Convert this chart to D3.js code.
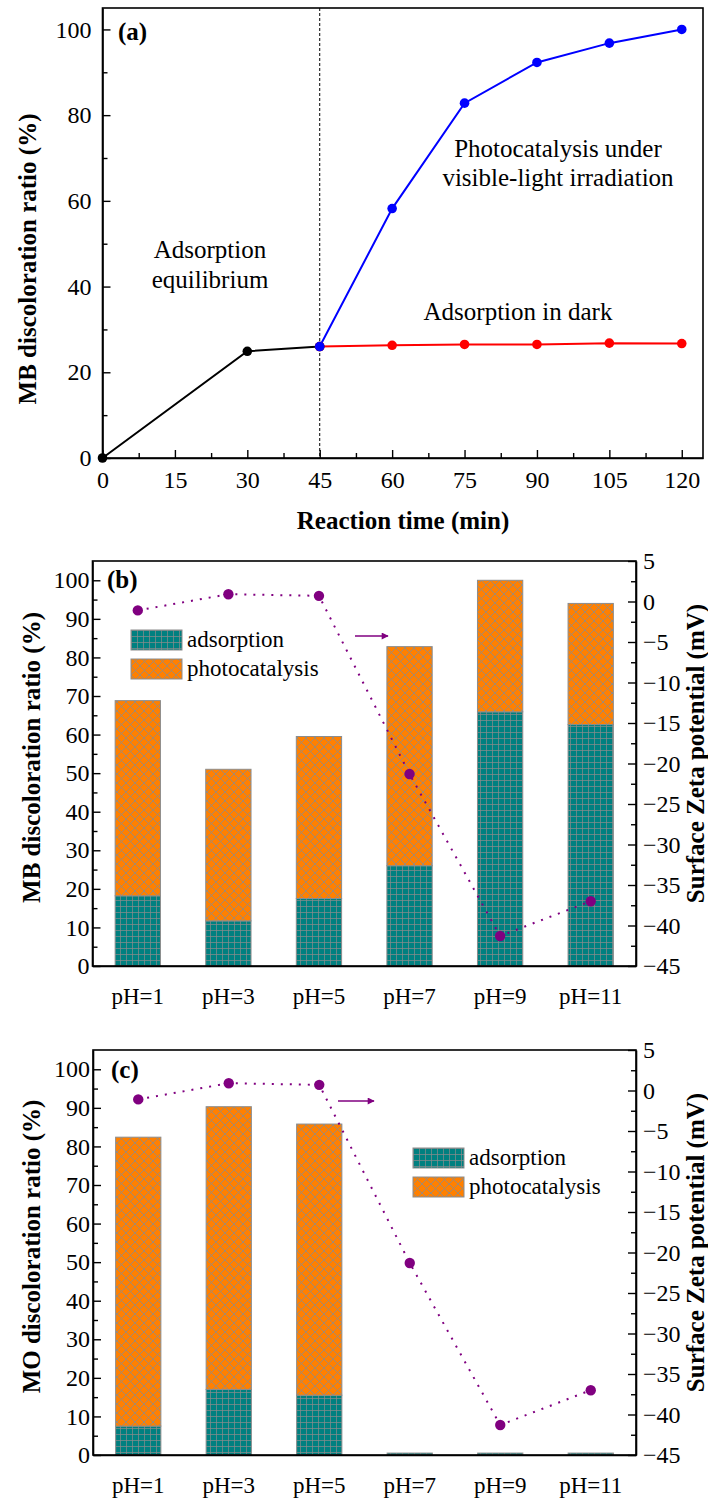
<!DOCTYPE html>
<html>
<head>
<meta charset="utf-8">
<script src="https://cdn.jsdelivr.net/npm/d3@7"></script>
<style>
  body { margin: 0; background: #fff; }
  svg { display: block; }
</style>
</head>
<body>
<svg id="fig" width="708" height="1498"></svg>
<script>
// ---------- Panel (a): MB discoloration vs. reaction time ----------
const timeEquil   = [0, 30, 45];
const ratioEquil  = [0, 24.9, 26.0];
const timeLight   = [45, 60, 75, 90, 105, 120];
const ratioLight  = [26.0, 58.2, 82.8, 92.3, 96.8, 100];
const timeDark    = [45, 60, 75, 90, 105, 120];
const ratioDark   = [26.0, 26.3, 26.5, 26.5, 26.8, 26.7];
const timeTicks   = [0, 15, 30, 45, 60, 75, 90, 105, 120];
const timeMinor   = [7.5, 22.5, 37.5, 52.5, 67.5, 82.5, 97.5, 112.5];
const ratioTicksA = [0, 20, 40, 60, 80, 100];
const ratioMinorA = [10, 30, 50, 70, 90];
const darkStart   = 45;

// ---------- Panels (b), (c): pH dependence ----------
const phLabels         = ["pH=1", "pH=3", "pH=5", "pH=7", "pH=9", "pH=11"];
const mbAdsorption     = [18.2, 11.7, 17.5, 26.0, 65.9, 62.6];
const mbPhotocatalysis = [50.6, 39.3, 42.0, 56.8, 34.1, 31.4];
const moAdsorption     = [7.5, 17.0, 15.5, 0.5, 0.5, 0.5];
const moPhotocatalysis = [74.9, 73.3, 70.3, 0, 0, 0];
const zetaPotential    = [-1.1, 0.9, 0.7, -21.3, -41.3, -37.0];
const ratioTicksB = [0, 10, 20, 30, 40, 50, 60, 70, 80, 90, 100];
const ratioMinorB = [5, 15, 25, 35, 45, 55, 65, 75, 85, 95];
const zetaTicks   = [5, 0, -5, -10, -15, -20, -25, -30, -35, -40, -45];
const zetaMinor   = [2.5, -2.5, -7.5, -12.5, -17.5, -22.5, -27.5, -32.5, -37.5, -42.5];

const FONT = "'Liberation Serif', 'Times New Roman', Times, serif";
const TEAL = "#008080", ORANGE = "#ff8000", PURPLE = "#800080", HATCH = "#8c8c8c";

const svg = d3.select("#fig").attr("font-family", FONT);

// ---------- fill patterns ----------
const defs = svg.append("defs");
const gridPat = defs.append("pattern").attr("id", "gridTeal")
  .attr("patternUnits", "userSpaceOnUse").attr("width", 6).attr("height", 6);
gridPat.append("rect").attr("width", 6).attr("height", 6).attr("fill", TEAL);
gridPat.append("path").attr("d", "M0,0.4H6M0.4,0V6")
  .attr("stroke", HATCH).attr("stroke-width", 0.8).attr("fill", "none");

const crossPat = defs.append("pattern").attr("id", "crossOrange")
  .attr("patternUnits", "userSpaceOnUse").attr("width", 9).attr("height", 9);
crossPat.append("rect").attr("width", 9).attr("height", 9).attr("fill", ORANGE);
crossPat.append("path").attr("d", "M-1,-1L10,10M10,-1L-1,10")
  .attr("stroke", HATCH).attr("stroke-width", 0.8).attr("fill", "none");

defs.append("marker").attr("id", "arrowHead")
  .attr("viewBox", "0 0 10 10").attr("refX", 9).attr("refY", 5)
  .attr("markerWidth", 10).attr("markerHeight", 7).attr("markerUnits", "userSpaceOnUse")
  .attr("orient", "auto")
  .append("path").attr("d", "M0,0L10,5L0,10Z").attr("fill", PURPLE);

// ---------- helpers ----------
function styleAxis(g, size) {
  g.attr("font-family", FONT).attr("font-size", size);
  g.select(".domain").attr("stroke", "#000").attr("stroke-width", 1.6);
  g.selectAll(".tick line").attr("stroke", "#000").attr("stroke-width", 1.4);
  g.selectAll(".tick text").attr("fill", "#000");
  return g;
}
function minorAxis(g, axis) {
  g.call(axis.tickFormat("").tickSizeOuter(0));
  g.select(".domain").remove();
  g.selectAll(".tick line").attr("stroke", "#000").attr("stroke-width", 1.4);
}
function frame(x0, y0, x1, y1) {
  svg.append("rect").attr("x", x0).attr("y", y0)
    .attr("width", x1 - x0).attr("height", y1 - y0)
    .attr("fill", "none").attr("stroke", "#000").attr("stroke-width", 1.6);
}
function label(txt, x, y, opts = {}) {
  const t = svg.append("text").attr("x", x).attr("y", y).text(txt)
    .attr("font-size", opts.size || 25)
    .attr("font-weight", opts.bold ? "bold" : "normal")
    .attr("text-anchor", opts.anchor || "middle")
    .attr("fill", "#000");
  if (opts.rotate) t.attr("x", 0).attr("y", 0)
    .attr("transform", `translate(${x},${y}) rotate(${opts.rotate})`);
  return t;
}

// =================== Panel (a) ===================
(function () {
  const L = 102.5, R = 703, T = 8, B = 458;
  const x = d3.scaleLinear().domain([0, 124.4]).range([L, R]);
  const y = d3.scaleLinear().domain([0, 105]).range([B, T]);

  // dashed divider between the dark-adsorption and irradiation stages
  svg.append("line")
    .attr("x1", x(darkStart)).attr("x2", x(darkStart))
    .attr("y1", T).attr("y2", B)
    .attr("stroke", "#000").attr("stroke-width", 1).attr("stroke-dasharray", "3,2");

  const line = d3.line().x(d => x(d[0])).y(d => y(d[1]));
  const series = [
    { t: timeEquil, v: ratioEquil, c: "#000000" },
    { t: timeDark,  v: ratioDark,  c: "#ff0000" },
    { t: timeLight, v: ratioLight, c: "#0000ff" }
  ];
  series.forEach(s => {
    const pts = s.t.map((t, i) => [t, s.v[i]]);
    svg.append("path").datum(pts).attr("d", line)
      .attr("fill", "none").attr("stroke", s.c).attr("stroke-width", 2);
  });
  series.forEach(s => {
    const pts = s.t.map((t, i) => [t, s.v[i]]);
    svg.append("g").selectAll("circle").data(pts).join("circle")
      .attr("cx", d => x(d[0])).attr("cy", d => y(d[1])).attr("r", 4.8)
      .attr("fill", s.c);
  });

  frame(L, T, R, B);

  const gx = svg.append("g").attr("transform", `translate(0,${B})`);
  gx.call(d3.axisBottom(x).tickValues(timeTicks).tickSize(-8).tickSizeOuter(0).tickPadding(13));
  styleAxis(gx, 24);
  minorAxis(svg.append("g").attr("transform", `translate(0,${B})`),
    d3.axisBottom(x).tickValues(timeMinor).tickSize(-5));

  const gy = svg.append("g").attr("transform", `translate(${L},0)`);
  gy.call(d3.axisLeft(y).tickValues(ratioTicksA).tickSize(-8).tickSizeOuter(0).tickPadding(11));
  styleAxis(gy, 24);
  minorAxis(svg.append("g").attr("transform", `translate(${L},0)`),
    d3.axisLeft(y).tickValues(ratioMinorA).tickSize(-5));

  label("(a)", 118, 40, { bold: true, anchor: "start" });
  label("Adsorption", 210, 258);
  label("equilibrium", 210, 288);
  label("Photocatalysis under", 558, 157);
  label("visible-light irradiation", 558, 186);
  label("Adsorption in dark", 518, 320);
  label("Reaction time (min)", 403, 529, { bold: true });
  label("MB discoloration ratio (%)", 36, 259, { bold: true, rotate: -90 });
})();

// =================== Panels (b) and (c) ===================
function phPanel(cfg) {
  const { L, R, T, B } = cfg;
  const x = d3.scaleBand().domain(phLabels).range([L, R]).paddingInner(0.5).paddingOuter(0.25);
  const y = d3.scaleLinear().domain([0, 105]).range([B, T]);
  const yz = d3.scaleLinear().domain([-45, 5]).range([B, T]);

  const rows = phLabels.map((p, i) => ({ ph: p, adsorption: cfg.ads[i], photocatalysis: cfg.photo[i] }));
  const stacked = d3.stack().keys(["adsorption", "photocatalysis"])(rows);
  const fills = { adsorption: "url(#gridTeal)", photocatalysis: "url(#crossOrange)" };

  stacked.forEach(layer => {
    svg.append("g").selectAll("rect")
      .data(layer.filter(d => d[1] - d[0] > 0))
      .join("rect")
      .attr("x", d => x(d.data.ph)).attr("width", x.bandwidth())
      .attr("y", d => y(d[1])).attr("height", d => y(d[0]) - y(d[1]))
      .attr("fill", fills[layer.key])
      .attr("stroke", HATCH).attr("stroke-width", 1);
  });

  // zeta potential on the right-hand axis
  const zpts = phLabels.map((p, i) => [x(p) + x.bandwidth() / 2, yz(zetaPotential[i])]);
  svg.append("path").datum(zpts).attr("d", d3.line())
    .attr("fill", "none").attr("stroke", PURPLE).attr("stroke-width", 2)
    .attr("stroke-dasharray", "2,7");
  svg.append("g").selectAll("circle").data(zpts).join("circle")
    .attr("cx", d => d[0]).attr("cy", d => d[1]).attr("r", 5.2).attr("fill", PURPLE);

  // arrow pointing to the zeta axis
  svg.append("line")
    .attr("x1", cfg.arrow[0]).attr("x2", cfg.arrow[1])
    .attr("y1", cfg.arrow[2]).attr("y2", cfg.arrow[2])
    .attr("stroke", PURPLE).attr("stroke-width", 1.5)
    .attr("marker-end", "url(#arrowHead)");

  frame(L, T, R, B);

  const gx = svg.append("g").attr("transform", `translate(0,${B})`);
  gx.call(d3.axisBottom(x).tickSize(0).tickSizeOuter(0).tickPadding(22));
  styleAxis(gx, 23);

  const gy = svg.append("g").attr("transform", `translate(${L},0)`);
  gy.call(d3.axisLeft(y).tickValues(ratioTicksB).tickSize(-8).tickSizeOuter(0).tickPadding(3));
  styleAxis(gy, 24);
  minorAxis(svg.append("g").attr("transform", `translate(${L},0)`),
    d3.axisLeft(y).tickValues(ratioMinorB).tickSize(-5));

  const gz = svg.append("g").attr("transform", `translate(${R},0)`);
  gz.call(d3.axisRight(yz).tickValues(zetaTicks).tickSize(-8).tickSizeOuter(0).tickPadding(7));
  styleAxis(gz, 24);
  minorAxis(svg.append("g").attr("transform", `translate(${R},0)`),
    d3.axisRight(yz).tickValues(zetaMinor).tickSize(-5));

  // legend
  const lg = svg.append("g").attr("transform", `translate(${cfg.legend[0]},${cfg.legend[1]})`);
  [["adsorption", "url(#gridTeal)"], ["photocatalysis", "url(#crossOrange)"]].forEach((d, i) => {
    lg.append("rect").attr("x", 0).attr("y", i * 29).attr("width", 51).attr("height", 20)
      .attr("fill", d[1]).attr("stroke", HATCH).attr("stroke-width", 1);
    lg.append("text").attr("x", 56).attr("y", i * 29 + 17).text(d[0])
      .attr("font-size", 23).attr("fill", "#000");
  });

  label(cfg.tag, cfg.tagPos[0], cfg.tagPos[1], { bold: true, anchor: "start" });
  label(cfg.yTitle, 40, (T + B) / 2 - 6, { bold: true, rotate: -90 });
  label("Surface Zeta potential (mV)", 704, (T + B) / 2 - 10, { bold: true, rotate: -90 });
}

phPanel({
  L: 92.5, R: 636, T: 561, B: 966,
  ads: mbAdsorption, photo: mbPhotocatalysis,
  arrow: [355, 388, 636],
  legend: [131, 630],
  tag: "(b)", tagPos: [107, 588],
  yTitle: "MB discoloration ratio (%)"
});

phPanel({
  L: 93, R: 636, T: 1050, B: 1455,
  ads: moAdsorption, photo: moPhotocatalysis,
  arrow: [338, 374, 1101],
  legend: [413, 1148],
  tag: "(c)", tagPos: [111, 1078],
  yTitle: "MO discoloration ratio (%)"
});
</script>
</body>
</html>
